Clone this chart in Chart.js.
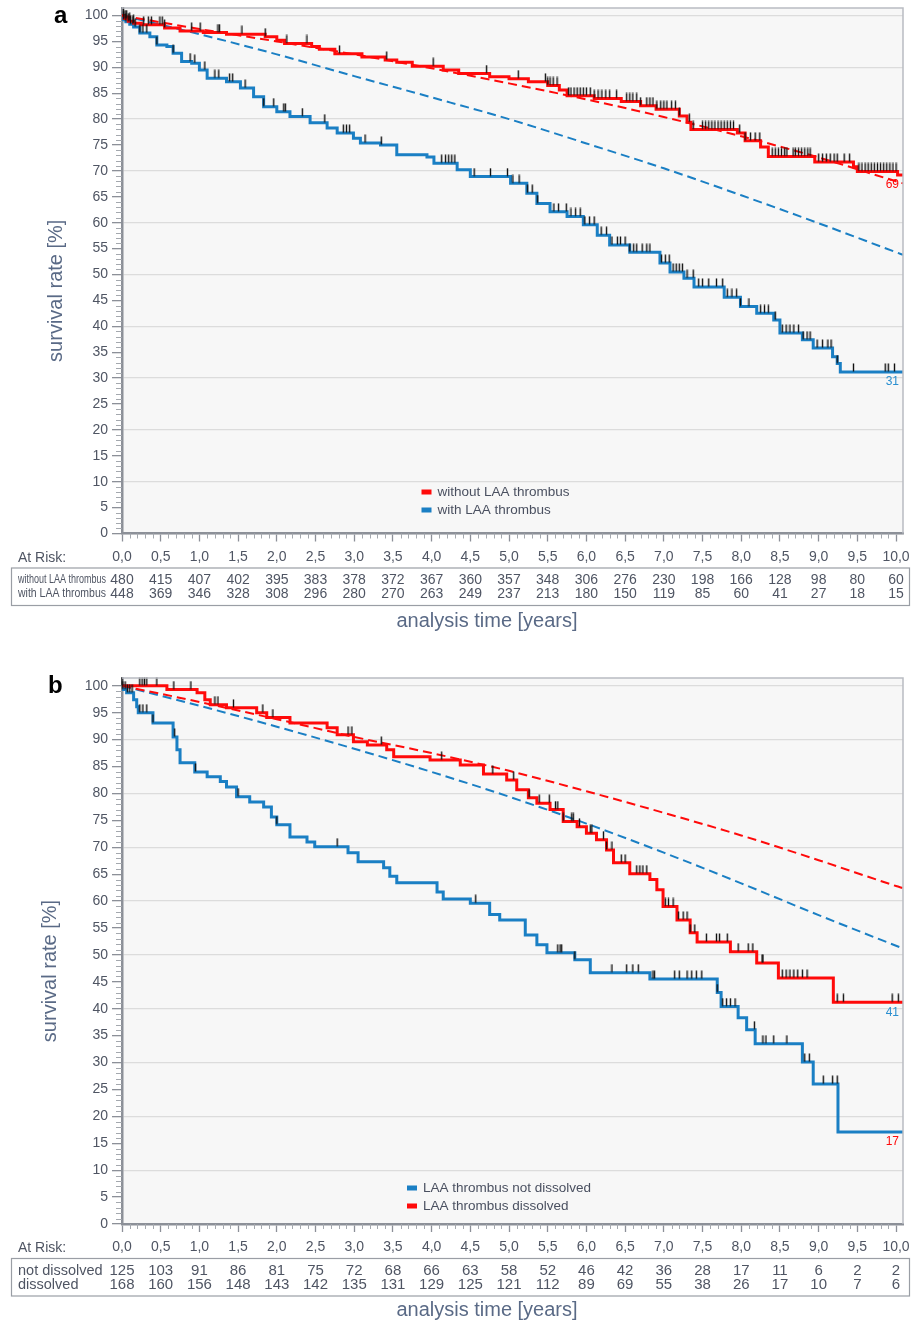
<!DOCTYPE html>
<html>
<head>
<meta charset="utf-8">
<script src="https://cdn.jsdelivr.net/npm/chart.js@4.4.1/dist/chart.umd.min.js"></script>
<style>
  body { margin: 0; background: #fff; width: 913px; height: 1327px; overflow: hidden; position: relative; }
  .panel { position: absolute; left: 0; width: 913px; }
</style>
</head>
<body>
<div class="panel" style="top:0;height:650px"><canvas id="chartA"></canvas></div>
<div class="panel" style="top:660px;height:667px"><canvas id="chartB"></canvas></div>
<script>
// ---- data ----
const riskYears = [0, 0.5, 1, 1.5, 2, 2.5, 3, 3.5, 4, 4.5, 5, 5.5, 6, 6.5, 7, 7.5, 8, 8.5, 9, 9.5, 10];

// panel a: KM step curves (time in years, survival %)
const aRedT = [0, 0.03, 0.08, 0.15, 0.25, 0.55, 0.75, 1.05, 1.35, 1.85, 2.0, 2.1, 2.45, 2.55, 2.75, 3.1, 3.4, 3.55, 3.75, 4.15, 4.35, 4.75, 5.0, 5.25, 5.5, 5.65, 5.75, 6.1, 6.45, 6.7, 6.9, 7.2, 7.3, 7.35, 7.95, 8.05, 8.25, 8.35, 8.95, 9.45, 9.5, 10.02, 10.09];
const aRedS = [100, 99.4, 98.9, 98.5, 98.2, 97.6, 97.0, 96.7, 96.4, 95.9, 95.2, 94.6, 94.0, 93.5, 92.6, 92.0, 91.4, 91.0, 90.2, 89.5, 88.8, 88.2, 87.8, 87.2, 86.5, 85.6, 84.5, 84.0, 83.4, 82.6, 81.9, 80.6, 79.4, 78.0, 77.3, 75.8, 74.6, 72.8, 71.7, 70.8, 69.9, 69.2, 69.2];
const aBlueT = [0, 0.02, 0.05, 0.1, 0.15, 0.23, 0.36, 0.45, 0.58, 0.66, 0.77, 0.9, 1.0, 1.1, 1.35, 1.53, 1.7, 1.83, 2.0, 2.17, 2.43, 2.65, 2.78, 2.99, 3.08, 3.34, 3.55, 3.94, 4.03, 4.33, 4.5, 5.02, 5.23, 5.36, 5.53, 5.75, 5.96, 6.14, 6.3, 6.56, 6.95, 7.08, 7.26, 7.39, 7.78, 7.99, 8.2, 8.42, 8.5, 8.79, 8.93, 9.18, 9.24, 9.28, 10.09];
const aBlueS = [100, 99.2, 98.8, 98.3, 97.8, 96.6, 95.9, 94.3, 94.0, 92.7, 91.1, 90.8, 89.5, 87.9, 87.2, 86.0, 84.3, 82.4, 81.4, 80.5, 79.3, 78.3, 77.3, 76.3, 75.4, 75.0, 73.1, 72.7, 71.5, 70.2, 68.9, 67.6, 65.7, 63.7, 62.1, 61.2, 59.6, 57.6, 55.7, 54.3, 52.2, 50.5, 49.3, 47.6, 45.6, 43.8, 42.5, 41.2, 38.7, 37.4, 35.8, 34.1, 32.8, 31.2, 31.2];
const aRedCens = [0.02, 0.04, 0.06, 0.1, 0.15, 0.28, 0.34, 0.38, 0.49, 0.52, 0.55, 0.9, 1.01, 1.24, 1.26, 1.55, 1.85, 2.13, 2.39, 2.81, 3.42, 4.02, 4.71, 5.12, 5.47, 5.5, 5.53, 5.57, 5.62, 5.77, 5.8, 5.84, 5.88, 5.92, 5.96, 6.0, 6.05, 6.1, 6.15, 6.2, 6.25, 6.3, 6.39, 6.52, 6.56, 6.6, 6.65, 6.7, 6.78, 6.82, 6.86, 6.91, 6.96, 7.0, 7.04, 7.1, 7.15, 7.2, 7.33, 7.38, 7.5, 7.54, 7.58, 7.62, 7.66, 7.7, 7.74, 7.78, 7.82, 7.86, 7.9, 7.98, 8.05, 8.12, 8.18, 8.24, 8.4, 8.44, 8.48, 8.52, 8.56, 8.59, 8.67, 8.7, 8.74, 8.78, 8.82, 8.86, 8.89, 9.0, 9.05, 9.1, 9.15, 9.2, 9.24, 9.33, 9.4, 9.52, 9.56, 9.6, 9.64, 9.68, 9.72, 9.76, 9.8, 9.84, 9.88, 9.92, 9.96, 10.0];
const aBlueCens = [0.02, 0.05, 0.08, 0.11, 0.14, 0.17, 0.23, 0.27, 0.32, 0.45, 0.66, 0.88, 0.94, 1.07, 1.2, 1.25, 1.39, 1.43, 1.59, 1.83, 1.96, 2.09, 2.11, 2.33, 2.62, 2.86, 2.9, 2.94, 3.14, 3.35, 4.13, 4.18, 4.22, 4.26, 4.3, 4.55, 4.76, 4.98, 5.05, 5.13, 5.24, 5.3, 5.37, 5.58, 5.64, 5.74, 5.8, 5.86, 5.92, 5.98, 6.04, 6.1, 6.19, 6.26, 6.33, 6.4, 6.44, 6.5, 6.56, 6.61, 6.65, 6.72, 6.78, 6.82, 6.97, 7.02, 7.07, 7.12, 7.16, 7.2, 7.24, 7.3, 7.38, 7.45, 7.5, 7.58, 7.68, 7.76, 7.82, 7.88, 7.94, 7.99, 8.1, 8.25, 8.3, 8.35, 8.44, 8.53, 8.58, 8.63, 8.68, 8.74, 8.8, 8.85, 8.89, 8.98, 9.05, 9.12, 9.16, 9.24, 9.45, 9.86, 9.9, 9.98];

// expected survival (dashed)
const expT = [0, 1, 2, 3, 4, 5, 6, 7, 8, 9, 10, 10.09];
const aRedExp = [100, 97.4, 95.0, 92.5, 89.8, 86.9, 83.8, 80.4, 76.7, 72.6, 68.0, 67.6];
const aBlueExp = [100, 96.4, 92.5, 88.3, 84.2, 80.0, 75.3, 70.5, 65.3, 59.9, 54.3, 53.8];

const aRiskWithout = [480, 415, 407, 402, 395, 383, 378, 372, 367, 360, 357, 348, 306, 276, 230, 198, 166, 128, 98, 80, 60];
const aRiskWith = [448, 369, 346, 328, 308, 296, 280, 270, 263, 249, 237, 213, 180, 150, 119, 85, 60, 41, 27, 18, 15];

// panel b
const bRedT = [0, 0.58, 0.97, 1.07, 1.14, 1.35, 1.74, 1.87, 2.17, 2.65, 2.78, 2.99, 3.17, 3.42, 3.51, 3.98, 4.37, 4.67, 4.97, 5.1, 5.25, 5.36, 5.53, 5.7, 5.88, 6.0, 6.13, 6.26, 6.35, 6.56, 6.82, 6.91, 6.99, 7.17, 7.34, 7.43, 7.86, 8.2, 8.48, 9.19, 10.09];
const bRedS = [100, 99.3, 98.7, 97.4, 96.5, 95.9, 95.0, 94.1, 93.1, 92.2, 90.9, 89.6, 89.0, 88.1, 86.8, 86.2, 85.3, 83.6, 82.5, 80.7, 79.2, 78.2, 77.0, 74.8, 73.8, 72.6, 71.4, 69.5, 67.1, 65.1, 64.0, 62.1, 59.0, 56.5, 54.1, 52.4, 50.6, 48.5, 45.7, 41.2, 41.2];
const bBlueT = [0, 0.01, 0.06, 0.15, 0.19, 0.21, 0.4, 0.66, 0.71, 0.75, 0.94, 1.1, 1.27, 1.35, 1.48, 1.65, 1.83, 1.93, 2.0, 2.17, 2.39, 2.49, 2.92, 3.05, 3.38, 3.46, 3.55, 4.07, 4.15, 4.5, 4.75, 4.88, 5.21, 5.36, 5.49, 5.85, 6.05, 6.82, 7.69, 7.74, 7.96, 8.07, 8.18, 8.79, 8.93, 9.25, 10.09];
const bBlueS = [100, 99.3, 98.7, 97.4, 96.1, 95.0, 93.1, 90.5, 88.1, 85.7, 84.0, 83.1, 82.2, 81.2, 79.4, 78.4, 77.5, 75.6, 74.2, 71.9, 71.0, 70.1, 69.0, 67.3, 66.2, 64.6, 63.4, 61.7, 60.4, 59.6, 57.5, 56.5, 53.7, 51.9, 50.4, 49.1, 46.7, 45.5, 43.0, 40.4, 38.3, 36.1, 33.5, 30.1, 26.0, 17.1, 17.1];
const bRedCens = [0.0, 0.23, 0.26, 0.29, 0.32, 0.45, 0.67, 0.89, 1.2, 1.24, 1.44, 1.82, 1.95, 2.92, 2.97, 3.35, 4.13, 4.79, 5.06, 5.26, 5.39, 5.52, 5.6, 5.63, 5.7, 5.81, 5.83, 5.91, 6.05, 6.07, 6.22, 6.26, 6.33, 6.45, 6.5, 6.65, 6.69, 6.73, 6.78, 7.02, 7.06, 7.12, 7.19, 7.25, 7.3, 7.34, 7.4, 7.55, 7.68, 7.72, 7.82, 7.96, 8.09, 8.15, 8.27, 8.28, 8.53, 8.58, 8.63, 8.68, 8.73, 8.79, 8.85, 9.24, 9.32, 9.95, 10.03];
const bBlueCens = [0.01, 0.04, 0.07, 0.1, 0.13, 0.23, 0.27, 0.32, 0.4, 0.68, 0.95, 1.5, 2.0, 2.78, 4.57, 5.63, 5.66, 5.68, 5.85, 6.33, 6.52, 6.6, 6.67, 6.86, 6.88, 7.14, 7.2, 7.3, 7.36, 7.42, 7.49, 7.69, 7.76, 7.81, 7.86, 7.92, 8.17, 8.28, 8.32, 8.42, 8.59, 8.82, 8.88, 9.06, 9.18, 9.24];
const bRedExp = [100, 97.0, 93.8, 90.5, 87.5, 84.2, 80.4, 76.4, 72.2, 67.6, 62.8, 62.4];
const bBlueExp = [100, 96.3, 92.4, 88.3, 84.0, 79.4, 74.4, 69.0, 63.3, 57.4, 51.7, 51.2];

const bRiskNot = [125, 103, 91, 86, 81, 75, 72, 68, 66, 63, 58, 52, 46, 42, 36, 28, 17, 11, 6, 2, 2];
const bRiskDiss = [168, 160, 156, 148, 143, 142, 135, 131, 129, 125, 121, 112, 89, 69, 55, 38, 26, 17, 10, 7, 6];

// ---- style ----
const RED = '#ff0a0a';
const BLUE = '#1a7fc4';
const AX = '#8c9098';
const GRID = '#dcdcdc';
const TICKTXT = '#4f5563';
const TITLE = '#5a6a86';
const FONT = '"Liberation Sans", Arial, Helvetica, sans-serif';

// censor mark: short vertical line sitting on the curve
const censorImg = document.createElement('canvas');
censorImg.width = 3; censorImg.height = 18;
(function () {
  const c = censorImg.getContext('2d');
  c.strokeStyle = '#111';
  c.lineWidth = 1.4;
  c.beginPath(); c.moveTo(1.5, 0.5); c.lineTo(1.5, 8.5); c.stroke();
})();

function stepAt(T, S, t) {
  let v = S[0];
  for (let i = 0; i < T.length; i++) if (T[i] <= t) v = S[i];
  return v;
}
const pts = (T, S) => T.map((t, i) => ({ x: t, y: S[i] }));
const censPts = (C, T, S) => C.map(t => ({ x: t, y: stepAt(T, S, t) }));

function kmLine(label, T, S, color) {
  return { label, data: pts(T, S), borderColor: color, borderWidth: 3, stepped: 'before', pointRadius: 0, order: 1 };
}
function expLine(S, color) {
  return { label: 'expected', data: pts(expT, S), borderColor: color, borderWidth: 2, borderDash: [9, 5], pointRadius: 0, cubicInterpolationMode: 'monotone', order: 2 };
}
function censSet(C, T, S) {
  return { label: 'censored', data: censPts(C, T, S), showLine: false, pointStyle: censorImg, pointRadius: 3, clip: false, order: 0 };
}

function kmPlugin(p) {
  return {
    id: 'km',
    beforeDraw(chart) {
      const { ctx, chartArea: a } = chart;
      ctx.save();
      ctx.fillStyle = '#f7f7f7';
      ctx.fillRect(a.left, a.top, a.right - a.left, a.bottom - a.top);
      ctx.restore();
    },
    afterDraw(chart) {
      const { ctx, chartArea: a } = chart;
      const xs = chart.scales.x, ys = chart.scales.y;
      ctx.save();
      // top / right frame
      ctx.strokeStyle = '#b9bcc2'; ctx.lineWidth = 1.5;
      ctx.beginPath(); ctx.moveTo(a.left, a.top); ctx.lineTo(a.right, a.top); ctx.lineTo(a.right, a.bottom); ctx.stroke();
      // minor ticks
      ctx.strokeStyle = '#a4a8ae'; ctx.lineWidth = 1;
      for (let v = 1; v < 101; v++) {
        if (v % 5 === 0) continue;
        const y = Math.round(ys.getPixelForValue(v)) + 0.5;
        ctx.beginPath(); ctx.moveTo(a.left - 6, y); ctx.lineTo(a.left, y); ctx.stroke();
      }
      for (let k = 1; k <= 100; k++) {
        if (k % 5 === 0) continue;
        const x = Math.round(xs.getPixelForValue(k / 10)) + 0.5;
        ctx.beginPath(); ctx.moveTo(x, a.bottom); ctx.lineTo(x, a.bottom + 5); ctx.stroke();
      }
      // panel letter
      ctx.fillStyle = '#000'; ctx.font = 'bold 24px ' + FONT; ctx.textAlign = 'left'; ctx.textBaseline = 'alphabetic';
      ctx.fillText(p.letter, p.letterX, p.letterY);
      // y title
      ctx.fillStyle = TITLE; ctx.font = '20px ' + FONT; ctx.textAlign = 'center'; ctx.textBaseline = 'middle';
      ctx.save(); ctx.translate(p.ytX, (a.top + a.bottom) / 2 + 20); ctx.rotate(-Math.PI / 2);
      ctx.fillText('survival rate [%]', 0, 0); ctx.restore();
      // x title
      ctx.fillText('analysis time [years]', 487, a.bottom + p.titleDy);
      // at-risk table
      ctx.fillStyle = TICKTXT; ctx.font = '14px ' + FONT; ctx.textAlign = 'left';
      ctx.fillText('At Risk:', 18, a.bottom + 24.5);
      ctx.strokeStyle = '#9a9ea5'; ctx.lineWidth = 1.2;
      ctx.strokeRect(11.5, a.bottom + 34.5, 898, 37.5);
      const rows = [[p.rowNames[0], p.risk[0], a.bottom + 46.5], [p.rowNames[1], p.risk[1], a.bottom + 60.5]];
      rows.forEach(([name, vals, y]) => {
        ctx.textAlign = 'left'; ctx.font = p.rowFont + ' ' + FONT;
        ctx.fillText(name, 18, y, p.rowNameW);
        ctx.textAlign = 'center'; ctx.font = p.numFont + ' ' + FONT;
        vals.forEach((n, i) => ctx.fillText(String(n), xs.getPixelForValue(riskYears[i]), y));
      });
      // legend
      ctx.font = '13.5px ' + FONT; ctx.textAlign = 'left';
      p.legend.forEach((it, i) => {
        const y = p.legY + i * 18;
        ctx.fillStyle = it.color; ctx.fillRect(p.legX, y - 2.5, 10, 5);
        ctx.fillStyle = '#4a5060'; ctx.fillText(it.label, p.legX + 16, y);
      });
      // end labels under the curves
      ctx.font = '12px ' + FONT; ctx.textAlign = 'right';
      p.ends.forEach(e => {
        ctx.fillStyle = e.color;
        ctx.fillText(e.text, 899, ys.getPixelForValue(e.value) + 10);
      });
      ctx.restore();
    }
  };
}

function makePanel(id, p) {
  return new Chart(document.getElementById(id), {
    type: 'line',
    data: { datasets: p.datasets },
    options: {
      responsive: true,
      maintainAspectRatio: false,
      animation: false,
      layout: { padding: { left: 0, right: 10, top: p.padTop, bottom: p.padBottom } },
      plugins: { legend: { display: false }, tooltip: { enabled: false } },
      scales: {
        x: {
          type: 'linear', min: 0, max: 10.09,
          ticks: { stepSize: 0.5, includeBounds: false, autoSkip: false, maxRotation: 0, padding: 7, color: TICKTXT,
                   font: { size: 14, family: FONT }, callback: v => v.toFixed(1).replace('.', ',') },
          grid: { drawOnChartArea: false, tickLength: 8, tickColor: AX, tickWidth: 1.3 },
          border: { color: AX, width: 2.5 },
          afterFit: s => { s.height = 40; s.paddingLeft = 0; s.paddingRight = 0; }
        },
        y: {
          min: 0, max: 101.45,
          ticks: { stepSize: 5, includeBounds: false, padding: 4, color: TICKTXT, font: { size: 14, family: FONT } },
          grid: { color: c => (c.tick && c.tick.value % 10 === 0) ? GRID : 'rgba(0,0,0,0)', lineWidth: 1.3,
                  tickColor: AX, tickLength: 10, tickWidth: 1.3 },
          border: { color: AX, width: 2.5 },
          afterFit: s => { s.width = 122; s.paddingTop = 0; s.paddingBottom = 0; }
        }
      }
    },
    plugins: [kmPlugin(p)]
  });
}

makePanel('chartA', {
  padTop: 8, padBottom: 76.5,
  letter: 'a', letterX: 54, letterY: 23, ytX: 56, titleDy: 87.5,
  rowNames: ['without LAA thrombus', 'with LAA thrombus'], rowFont: '12px', rowNameW: 88, numFont: '14px',
  risk: [aRiskWithout, aRiskWith],
  legX: 421.5, legY: 492,
  legend: [{ label: 'without LAA thrombus', color: RED }, { label: 'with LAA thrombus', color: BLUE }],
  ends: [{ text: '69', value: aRedS[aRedS.length - 1], color: RED }, { text: '31', value: aBlueS[aBlueS.length - 1], color: '#2a8fd0' }],
  datasets: [
    censSet(aRedCens, aRedT, aRedS),
    censSet(aBlueCens, aBlueT, aBlueS),
    kmLine('without LAA thrombus', aRedT, aRedS, RED),
    kmLine('with LAA thrombus', aBlueT, aBlueS, BLUE),
    expLine(aRedExp, RED),
    expLine(aBlueExp, BLUE)
  ]
});

makePanel('chartB', {
  padTop: 18, padBottom: 63,
  letter: 'b', letterX: 48, letterY: 33, ytX: 50, titleDy: 86,
  rowNames: ['not dissolved', 'dissolved'], rowFont: '14.5px', rowNameW: 95, numFont: '15px',
  risk: [bRiskNot, bRiskDiss],
  legX: 407, legY: 528,
  legend: [{ label: 'LAA thrombus not dissolved', color: BLUE }, { label: 'LAA thrombus dissolved', color: RED }],
  ends: [{ text: '41', value: bRedS[bRedS.length - 1], color: '#2a8fd0' }, { text: '17', value: bBlueS[bBlueS.length - 1], color: RED }],
  datasets: [
    censSet(bRedCens, bRedT, bRedS),
    censSet(bBlueCens, bBlueT, bBlueS),
    kmLine('LAA thrombus dissolved', bRedT, bRedS, RED),
    kmLine('LAA thrombus not dissolved', bBlueT, bBlueS, BLUE),
    expLine(bRedExp, RED),
    expLine(bBlueExp, BLUE)
  ]
});
</script>
</body>
</html>
